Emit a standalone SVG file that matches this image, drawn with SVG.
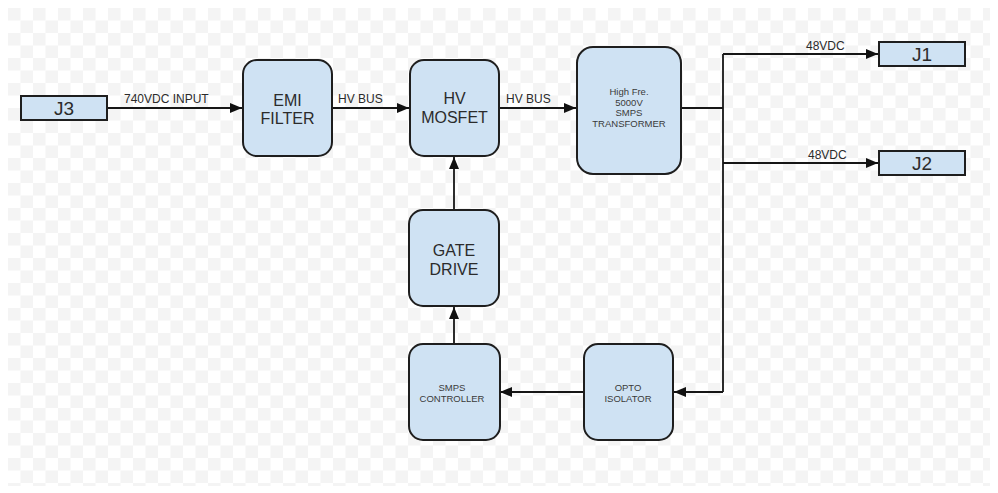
<svg xmlns="http://www.w3.org/2000/svg" width="998" height="493" viewBox="0 0 998 493">
  <defs>
    <pattern id="checker" x="8" y="8" width="25" height="25" patternUnits="userSpaceOnUse">
      <rect x="0" y="0" width="12.5" height="12.5" fill="#f4f4f4"/>
      <rect x="12.5" y="12.5" width="12.5" height="12.5" fill="#f4f4f4"/>
    </pattern>
    <marker id="arrow" viewBox="0 0 12 10" refX="12" refY="5" markerWidth="12" markerHeight="10" markerUnits="userSpaceOnUse" orient="auto">
      <path d="M0,0 L12,5 L0,10 z" fill="#111"/>
    </marker>
  </defs>
  <style>
    .block { fill: #cfe2f3; stroke: #1e1e1e; stroke-width: 2; }
    .conn { fill: none; stroke: #161616; stroke-width: 1.8; }
    .big { font-family: "Liberation Sans", Arial, sans-serif; font-size: 16px; fill: #2b2b2b; text-anchor: middle; }
    .small { font-family: "Liberation Sans", Arial, sans-serif; font-size: 9.5px; fill: #3a3a3a; text-anchor: middle; }
    .jack { font-family: "Liberation Sans", Arial, sans-serif; font-size: 19px; fill: #2b2b2b; text-anchor: middle; }
    .lbl { font-family: "Liberation Sans", Arial, sans-serif; font-size: 12px; fill: #2b2b2b; }
  </style>

  <rect x="0" y="0" width="998" height="493" fill="#ffffff"/>
  <rect x="8" y="8" width="982" height="478" fill="url(#checker)"/>

  <!-- connectors and their labels -->
  <g id="connectors">
    <line class="conn" x1="107" y1="108" x2="242" y2="108" marker-end="url(#arrow)"/>
    <line class="conn" x1="332" y1="108" x2="409" y2="108" marker-end="url(#arrow)"/>
    <line class="conn" x1="499" y1="108" x2="576" y2="108" marker-end="url(#arrow)"/>
    <polyline class="conn" points="681,108 723,108"/>
    <polyline class="conn" points="723,54 723,392"/>
    <line class="conn" x1="723" y1="54" x2="878" y2="54" marker-end="url(#arrow)"/>
    <line class="conn" x1="723" y1="163" x2="878" y2="163" marker-end="url(#arrow)"/>
    <line class="conn" x1="723" y1="392" x2="674" y2="392" marker-end="url(#arrow)"/>
    <line class="conn" x1="584" y1="392" x2="500" y2="392" marker-end="url(#arrow)"/>
    <line class="conn" x1="454" y1="344" x2="454" y2="307" marker-end="url(#arrow)"/>
    <line class="conn" x1="454" y1="210" x2="454" y2="157" marker-end="url(#arrow)"/>
    <text class="lbl" x="124" y="103">740VDC INPUT</text>
    <text class="lbl" x="338" y="103">HV BUS</text>
    <text class="lbl" x="506" y="103">HV BUS</text>
    <text class="lbl" x="806" y="50">48VDC</text>
    <text class="lbl" x="808" y="159">48VDC</text>
  </g>

  <g id="j3">
    <rect class="block" x="21" y="96" width="86" height="24"/>
    <text class="jack" x="64" y="115">J3</text>
  </g>

  <g id="emi-filter">
    <rect class="block" x="243" y="60" width="89" height="96" rx="14"/>
    <text class="big" x="287.5" y="106">EMI</text>
    <text class="big" x="287.5" y="124">FILTER</text>
  </g>

  <g id="hv-mosfet">
    <rect class="block" x="410" y="60" width="89" height="96" rx="14"/>
    <text class="big" x="454.5" y="104">HV</text>
    <text class="big" x="454.5" y="123">MOSFET</text>
  </g>

  <g id="transformer">
    <rect class="block" x="577" y="47" width="104" height="127" rx="16"/>
    <text class="small" x="629" y="95">High Fre.</text>
    <text class="small" x="629" y="105.5">5000V</text>
    <text class="small" x="629" y="116">SMPS</text>
    <text class="small" x="629" y="127">TRANSFORMER</text>
  </g>

  <g id="j1">
    <rect class="block" x="879" y="42" width="86" height="24"/>
    <text class="jack" x="922" y="61">J1</text>
  </g>

  <g id="j2">
    <rect class="block" x="879" y="151" width="86" height="24"/>
    <text class="jack" x="922" y="170">J2</text>
  </g>

  <g id="gate-drive">
    <rect class="block" x="409" y="210" width="90" height="96" rx="14"/>
    <text class="big" x="454" y="256">GATE</text>
    <text class="big" x="454" y="275">DRIVE</text>
  </g>

  <g id="smps-controller">
    <rect class="block" x="409" y="344" width="91" height="96" rx="14"/>
    <text class="small" x="452" y="391">SMPS</text>
    <text class="small" x="452" y="402">CONTROLLER</text>
  </g>

  <g id="opto-isolator">
    <rect class="block" x="584" y="344" width="89" height="96" rx="14"/>
    <text class="small" x="628" y="391">OPTO</text>
    <text class="small" x="628" y="402">ISOLATOR</text>
  </g>
</svg>
